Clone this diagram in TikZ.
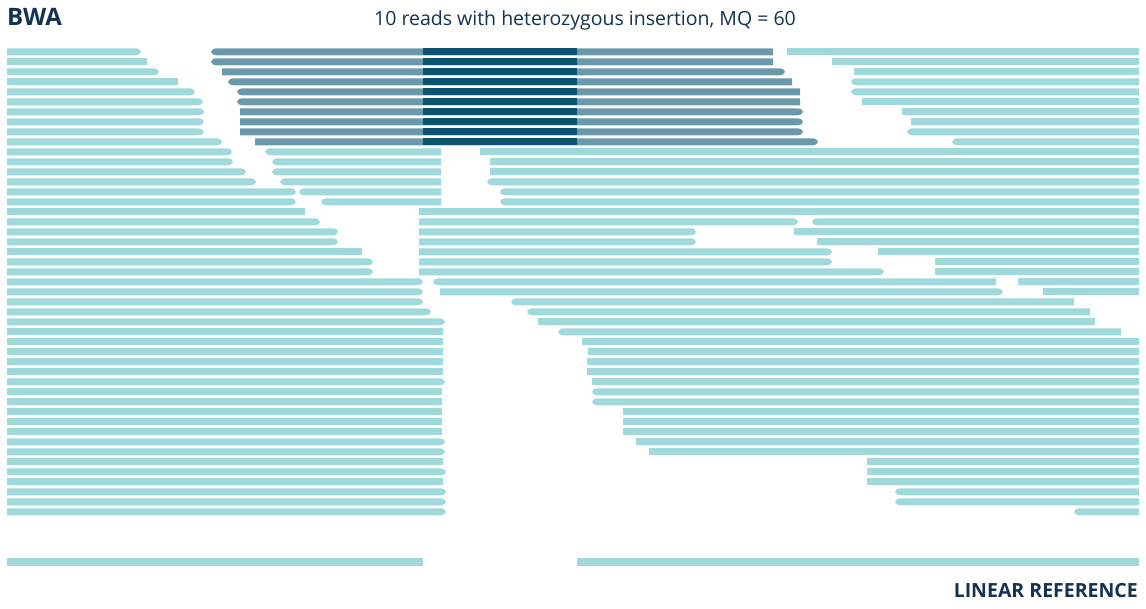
\documentclass[tikz,border=0pt]{standalone}
\usepackage{fontspec}
\setmainfont{Open Sans}
\definecolor{rlight}{RGB}{160,217,220}
\definecolor{rmed}{RGB}{107,153,172}
\definecolor{rdark}{RGB}{12,83,111}
\definecolor{txt}{RGB}{20,50,82}
\newcommand\rowy[1]{\pgfmathsetmacro\yc{51.8+10*#1}\pgfmathsetmacro\yt{\yc-3.5}\pgfmathsetmacro\yb{\yc+3.5}\pgfmathsetmacro\ya{\yc-1.9}\pgfmathsetmacro\yd{\yc+1.9}}
% square both ends
\newcommand\rdSS[4]{\rowy{#2}\fill[#1] (#3,\yt) rectangle (#4,\yb);}
% tip on the right
\newcommand\rdST[4]{\rowy{#2}\pgfmathsetmacro\xa{#4+3.3}\pgfmathsetmacro\xb{#4+6}%
  \fill[#1] (#3,\yt) -- (#4,\yt) .. controls (\xa,\yt) and (\xb,\ya) .. (\xb,\yc) .. controls (\xb,\yd) and (\xa,\yb) .. (#4,\yb) -- (#3,\yb) -- cycle;}
% tip on the left
\newcommand\rdTS[4]{\rowy{#2}\pgfmathsetmacro\xa{#3-3.3}\pgfmathsetmacro\xb{#3-6}%
  \fill[#1] (#4,\yt) -- (#3,\yt) .. controls (\xa,\yt) and (\xb,\ya) .. (\xb,\yc) .. controls (\xb,\yd) and (\xa,\yb) .. (#3,\yb) -- (#4,\yb) -- cycle;}
\newcommand\rdDark[1]{\rowy{#1}\fill[rdark] (423,\yt) rectangle (577,\yb);}
\tikzset{lbl/.style={text=txt, inner sep=0pt}}
\begin{document}
\begin{tikzpicture}[x=1pt,y=-1pt]
\useasboundingbox (0,0) rectangle (1146,608);
\node[lbl, anchor=base west, font=\fontsize{24}{28}\selectfont\bfseries] (bwa) at (7,25.5) {BWA};
\node[lbl, anchor=base west, font=\fontsize{19.5}{23}\selectfont] (title) at (374,25) {10 reads with heterozygous insertion, MQ = 60};
\node[lbl, anchor=base east, font=\fontsize{19.5}{23}\selectfont\bfseries] (lref) at (1138,597.5) {LINEAR REFERENCE};
% reads with insertion
\rdST{rlight}{0}{7}{135} \rdTS{rmed}{0}{217}{773} \rdSS{rlight}{0}{787}{1139}
\rdSS{rlight}{1}{7}{147} \rdTS{rmed}{1}{217}{773} \rdSS{rlight}{1}{832}{1139}
\rdST{rlight}{2}{7}{153} \rdST{rmed}{2}{222}{779} \rdSS{rlight}{2}{854}{1139}
\rdSS{rlight}{3}{7}{178} \rdTS{rmed}{3}{234}{792} \rdTS{rlight}{3}{857}{1139}
\rdST{rlight}{4}{7}{189} \rdTS{rmed}{4}{243}{800} \rdTS{rlight}{4}{857}{1139}
\rdST{rlight}{5}{7}{197} \rdTS{rmed}{5}{243}{800} \rdSS{rlight}{5}{862}{1139}
\rdST{rlight}{6}{7}{198} \rdST{rmed}{6}{240}{797} \rdSS{rlight}{6}{902}{1139}
\rdST{rlight}{7}{7}{198} \rdST{rmed}{7}{240}{797} \rdSS{rlight}{7}{911}{1139}
\rdST{rlight}{8}{7}{198} \rdST{rmed}{8}{240}{797} \rdTS{rlight}{8}{913}{1139}
\rdST{rlight}{9}{7}{216} \rdST{rmed}{9}{255}{812} \rdTS{rlight}{9}{958}{1139}
\foreach \r in {0,...,9} {\rdDark{\r}}
% other reads
\rdST{rlight}{10}{7}{226} \rdTS{rlight}{10}{271}{441} \rdSS{rlight}{10}{480}{1139}
\rdST{rlight}{11}{7}{227} \rdTS{rlight}{11}{278}{441} \rdSS{rlight}{11}{490}{1139}
\rdST{rlight}{12}{7}{240} \rdTS{rlight}{12}{278}{441} \rdSS{rlight}{12}{490}{1139}
\rdST{rlight}{13}{7}{250} \rdTS{rlight}{13}{286}{441} \rdTS{rlight}{13}{493}{1139}
\rdST{rlight}{14}{7}{290} \rdTS{rlight}{14}{305}{441} \rdTS{rlight}{14}{506}{1139}
\rdST{rlight}{15}{7}{290} \rdTS{rlight}{15}{327}{441} \rdTS{rlight}{15}{506}{1139}
\rdSS{rlight}{16}{7}{305} \rdSS{rlight}{16}{419}{1139}
\rdST{rlight}{17}{7}{314} \rdST{rlight}{17}{419}{792} \rdTS{rlight}{17}{818}{1139}
\rdST{rlight}{18}{7}{332} \rdST{rlight}{18}{419}{690} \rdSS{rlight}{18}{794}{1139}
\rdST{rlight}{19}{7}{332} \rdST{rlight}{19}{419}{690} \rdSS{rlight}{19}{817}{1139}
\rdSS{rlight}{20}{7}{362} \rdST{rlight}{20}{419}{826} \rdSS{rlight}{20}{878}{1139}
\rdST{rlight}{21}{7}{367} \rdST{rlight}{21}{419}{826} \rdSS{rlight}{21}{935}{1139}
\rdST{rlight}{22}{7}{367} \rdST{rlight}{22}{419}{878} \rdSS{rlight}{22}{935}{1139}
\rdST{rlight}{23}{7}{417} \rdTS{rlight}{23}{439}{996} \rdSS{rlight}{23}{1018}{1139}
\rdST{rlight}{24}{7}{417} \rdST{rlight}{24}{440}{997} \rdSS{rlight}{24}{1043}{1139}
\rdST{rlight}{25}{7}{417} \rdTS{rlight}{25}{517}{1074}
\rdST{rlight}{26}{7}{425} \rdTS{rlight}{26}{533}{1090}
\rdST{rlight}{27}{7}{439} \rdSS{rlight}{27}{538}{1095}
\rdSS{rlight}{28}{7}{443} \rdTS{rlight}{28}{564}{1121}
\rdSS{rlight}{29}{7}{443} \rdSS{rlight}{29}{582}{1139}
\rdSS{rlight}{30}{7}{443} \rdSS{rlight}{30}{588}{1139}
\rdSS{rlight}{31}{7}{443} \rdSS{rlight}{31}{587}{1139}
\rdSS{rlight}{32}{7}{443} \rdSS{rlight}{32}{587}{1139}
\rdST{rlight}{33}{7}{439} \rdSS{rlight}{33}{592}{1139}
\rdSS{rlight}{34}{7}{442} \rdTS{rlight}{34}{598}{1139}
\rdSS{rlight}{35}{7}{442} \rdTS{rlight}{35}{598}{1139}
\rdSS{rlight}{36}{7}{442} \rdSS{rlight}{36}{623}{1139}
\rdSS{rlight}{37}{7}{442} \rdSS{rlight}{37}{623}{1139}
\rdSS{rlight}{38}{7}{442} \rdSS{rlight}{38}{623}{1139}
\rdST{rlight}{39}{7}{439} \rdSS{rlight}{39}{636}{1139}
\rdST{rlight}{40}{7}{439} \rdSS{rlight}{40}{649}{1139}
\rdSS{rlight}{41}{7}{443} \rdSS{rlight}{41}{867}{1139}
\rdST{rlight}{42}{7}{440} \rdSS{rlight}{42}{867}{1139}
\rdSS{rlight}{43}{7}{443} \rdSS{rlight}{43}{867}{1139}
\rdST{rlight}{44}{7}{440} \rdTS{rlight}{44}{901}{1139}
\rdST{rlight}{45}{7}{440} \rdTS{rlight}{45}{901}{1139}
\rdST{rlight}{46}{7}{440} \rdTS{rlight}{46}{1080}{1139}
% linear reference
\fill[rlight] (7,558) rectangle (423,566);
\fill[rlight] (577,558) rectangle (1139,566);
\end{tikzpicture}
\end{document}
